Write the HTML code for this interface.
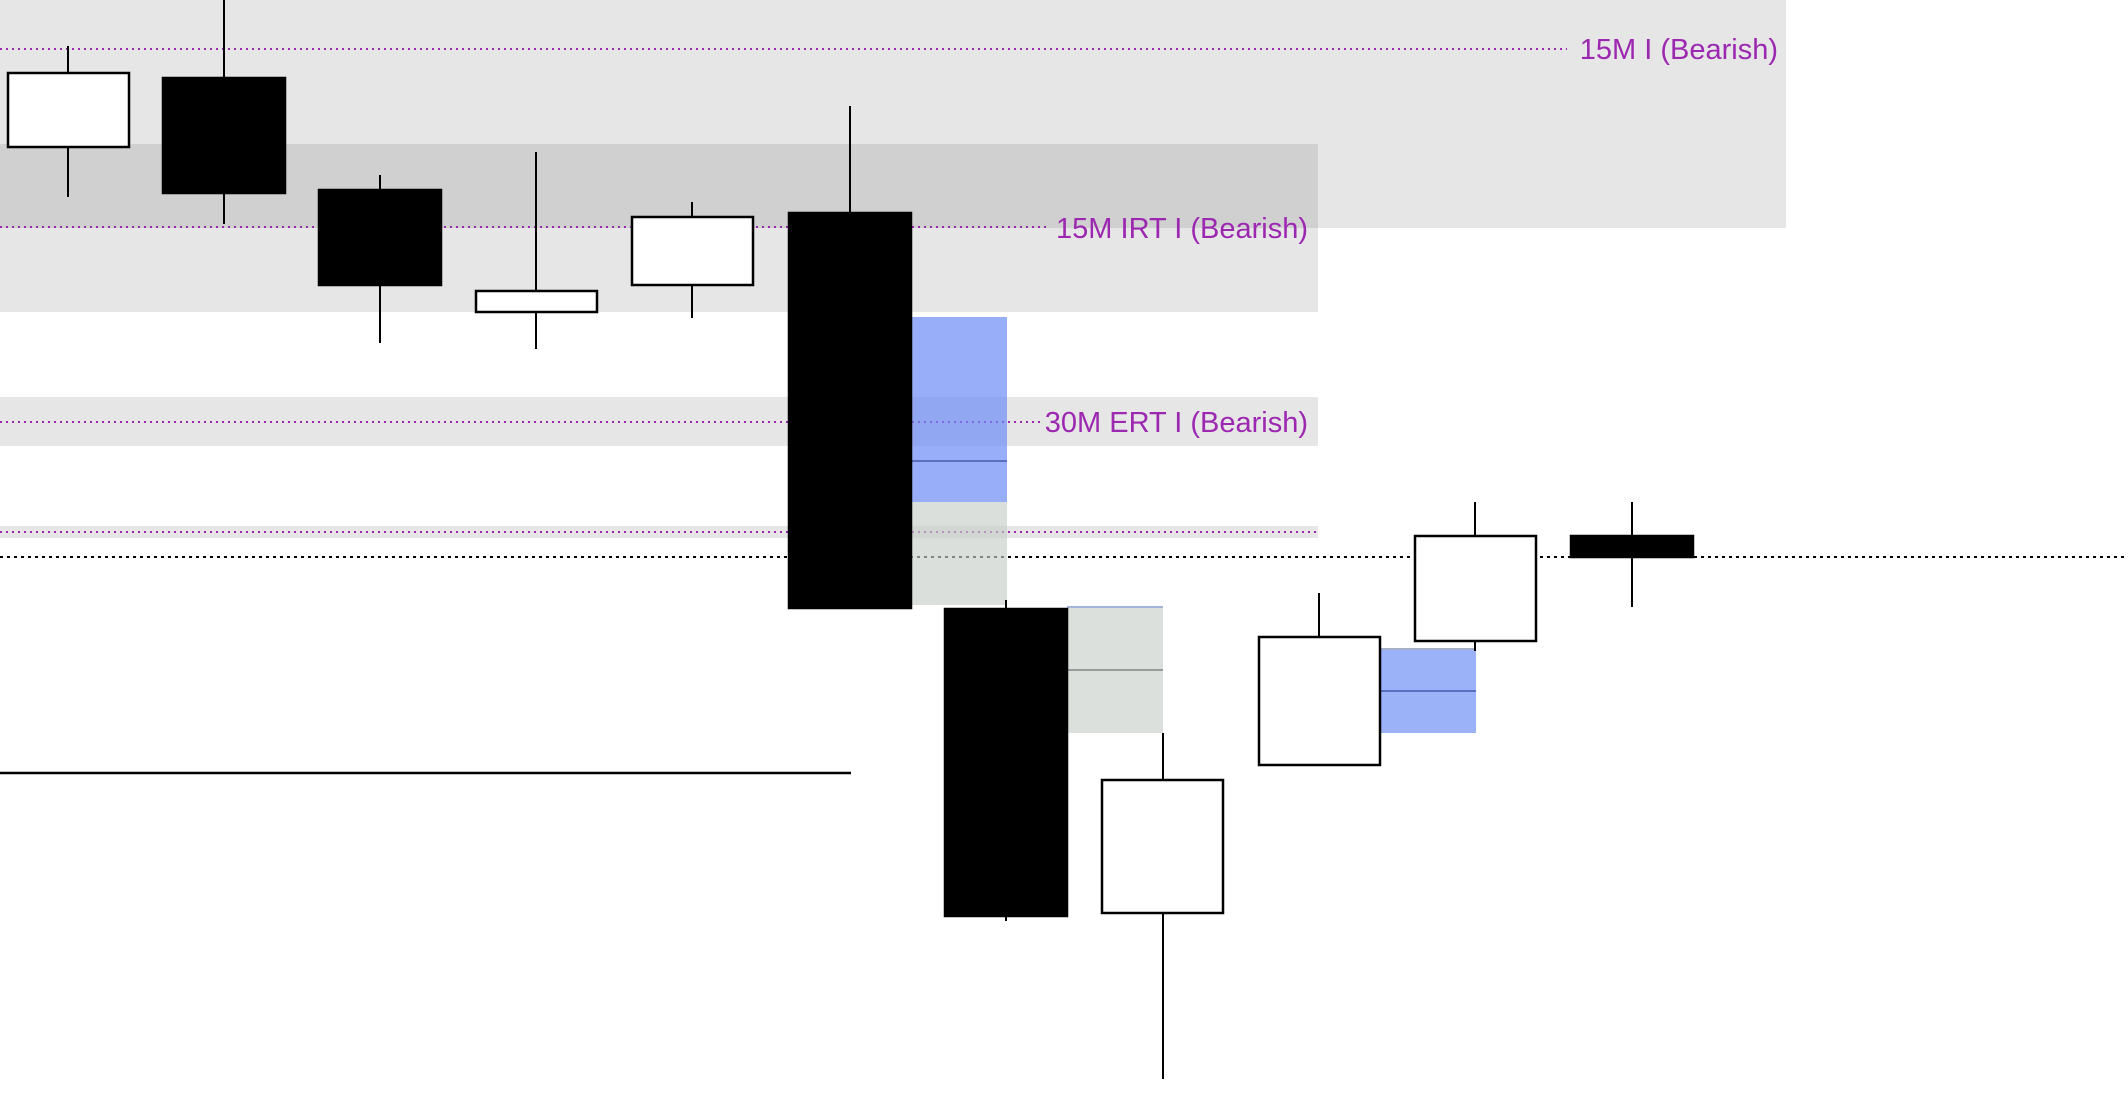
<!DOCTYPE html>
<html><head><meta charset="utf-8"><style>html,body{margin:0;padding:0;background:#fff}svg{display:block}</style></head>
<body>
<svg width="2128" height="1116" viewBox="0 0 2128 1116" xmlns="http://www.w3.org/2000/svg">
<rect width="2128" height="1116" fill="#fff"/>
<rect x="0" y="0" width="1786" height="228" fill="#e6e6e6"/>
<rect x="0" y="144" width="1318" height="84" fill="#d0d0d0"/>
<rect x="0" y="228" width="1318" height="84" fill="#e6e6e6"/>
<rect x="0" y="397" width="1318" height="49" fill="#e6e6e6"/>
<rect x="0" y="526" width="1318" height="12" fill="#e6e6e6"/>
<g stroke="#9c27b0" stroke-width="2" stroke-dasharray="2 4">
<line x1="0" y1="49" x2="1567" y2="49"/>
<line x1="0" y1="227" x2="1048" y2="227"/>
<line x1="0" y1="422" x2="1042" y2="422"/>
<line x1="0" y1="532" x2="1318" y2="532"/>
</g>
<g font-family="Liberation Sans, sans-serif" font-size="29" fill="#9c27b0" text-anchor="end">
<text x="1778" y="59">15M I (Bearish)</text>
<text x="1308" y="238">15M IRT I (Bearish)</text>
<text x="1308" y="432">30M ERT I (Bearish)</text>
</g>
<line x1="0" y1="557" x2="2128" y2="557" stroke="#000" stroke-width="2" stroke-dasharray="3 4"/>
<line x1="0" y1="773" x2="851" y2="773" stroke="#000" stroke-width="2.5"/>
<rect x="912" y="317" width="95" height="185" fill="rgba(110,140,245,0.7)"/>
<line x1="912" y1="461" x2="1007" y2="461" stroke="#5a6fbf" stroke-width="2"/>
<rect x="912" y="502" width="95" height="103" fill="rgba(200,206,200,0.65)"/>
<rect x="1067" y="607" width="96" height="126" fill="#dbe0dc"/>
<line x1="1067" y1="607" x2="1163" y2="607" stroke="#a5b3d8" stroke-width="2"/>
<line x1="1067" y1="670" x2="1163" y2="670" stroke="#999" stroke-width="2"/>
<rect x="1380" y="649" width="96" height="84" fill="#9bb1f8"/>
<line x1="1380" y1="649" x2="1476" y2="649" stroke="#a5b0c8" stroke-width="2"/>
<line x1="1380" y1="691" x2="1476" y2="691" stroke="#5a6fbf" stroke-width="2"/>
<g stroke="#000" stroke-width="2">
<line x1="68" y1="46" x2="68" y2="197"/>
<line x1="224" y1="0" x2="224" y2="224"/>
<line x1="380" y1="175" x2="380" y2="343"/>
<line x1="536" y1="152" x2="536" y2="349"/>
<line x1="692" y1="202" x2="692" y2="318"/>
<line x1="850" y1="106" x2="850" y2="300"/>
<line x1="1006" y1="600" x2="1006" y2="921"/>
<line x1="1163" y1="733" x2="1163" y2="1079"/>
<line x1="1319" y1="593" x2="1319" y2="700"/>
<line x1="1475" y1="502" x2="1475" y2="651"/>
<line x1="1632" y1="502" x2="1632" y2="607"/>
</g>
<g stroke="#000" stroke-width="2.5">
<rect x="8" y="73" width="121" height="74" fill="#fff"/>
<rect x="163" y="78" width="122" height="115" fill="#000"/>
<rect x="319" y="190" width="122" height="95" fill="#000"/>
<rect x="476" y="291" width="121" height="21" fill="#fff"/>
<rect x="632" y="217" width="121" height="68" fill="#fff"/>
<rect x="789" y="213" width="122" height="395" fill="#000"/>
<rect x="945" y="609" width="122" height="307" fill="#000"/>
<rect x="1102" y="780" width="121" height="133" fill="#fff"/>
<rect x="1259" y="637" width="121" height="128" fill="#fff"/>
<rect x="1415" y="536" width="121" height="105" fill="#fff"/>
<rect x="1571" y="536" width="122" height="21" fill="#000"/>
</g>
</svg>
</body></html>
